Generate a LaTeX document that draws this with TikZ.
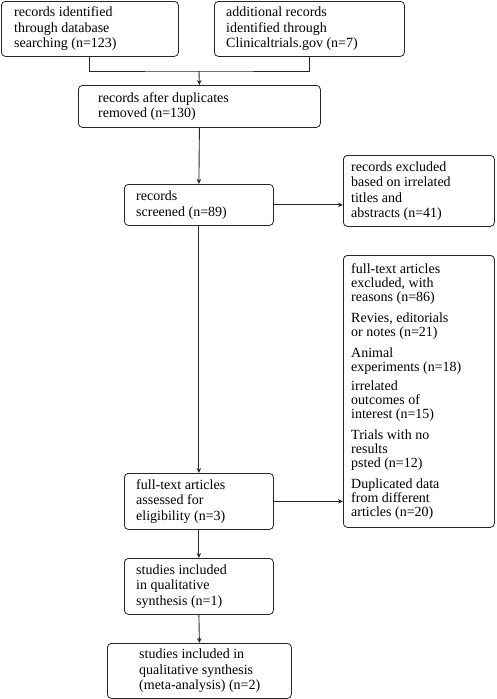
\documentclass[tikz,border=0pt]{standalone}
\usepackage{fontspec}
\setmainfont{Liberation Serif}
\usetikzlibrary{arrows.meta}
\begin{document}
\begin{tikzpicture}[x=1pt,y=1pt,
  box/.style={draw=black!85, line width=0.8pt, rounded corners=4pt, anchor=north west,
    inner sep=0pt},
  txt/.style={anchor=west, align=left, inner sep=0pt, font=\fontsize{14}{15.5}\selectfont},
  conn/.style={draw=black!85, line width=0.9pt},
  arr/.style={conn, -{Stealth[length=5pt,width=4.5pt]}}]
\useasboundingbox (0,0) rectangle (496,-699);
% boxes
\node[box, minimum width=177pt, minimum height=55pt] (b1) at (1,-1) {};
\node[box, minimum width=190pt, minimum height=55pt] (b2) at (214,-1) {};
\node[box, minimum width=242pt, minimum height=42pt] (b3) at (78,-85) {};
\node[box, minimum width=149pt, minimum height=41pt] (b4) at (124,-184) {};
\node[box, minimum width=151pt, minimum height=71pt] (b5) at (343,-155) {};
\node[box, minimum width=151pt, minimum height=272pt] (b6) at (343,-255) {};
\node[box, minimum width=149pt, minimum height=56pt] (b7) at (124,-473) {};
\node[box, minimum width=149pt, minimum height=56pt] (b8) at (124,-558) {};
\node[box, minimum width=184pt, minimum height=55pt] (b9) at (107,-643) {};
% texts
\node[txt] (t1) at ([xshift=13pt]b1.west) {records identified\\through database\\searching (n=123)};
\node[txt] (t2) at ([xshift=12pt]b2.west) {additional records\\identified through\\Clinicaltrials.gov (n=7)};
\node[txt] (t3) at ([xshift=20pt]b3.west) {records after duplicates\\removed (n=130)};
\node[txt] (t4) at ([xshift=12pt]b4.west) {records\\screened (n=89)};
\node[txt] (t5) at ([xshift=8pt]b5.west) {records excluded\\based on irrelated\\titles and\\abstracts (n=41)};
\node[txt, font=\fontsize{14}{14}\selectfont] (t6) at ([xshift=8pt]b6.west)
  {full-text articles\\excluded, with\\reasons (n=86)\\[7pt]
   Revies, editorials\\or notes (n=21)\\[7pt]
   Animal\\experiments (n=18)\\[5pt]
   irrelated\\outcomes of\\interest (n=15)\\[7pt]
   Trials with no\\results\\psted (n=12)\\[7pt]
   Duplicated data\\from different\\articles (n=20)};
\node[txt] (t7) at ([xshift=12pt]b7.west) {full-text articles\\assessed for\\eligibility (n=3)};
\node[txt] (t8) at ([xshift=12pt]b8.west) {studies included\\in qualitative\\synthesis (n=1)};
\node[txt] (t9) at ([xshift=32pt]b9.west) {studies included in\\qualitative synthesis\\(meta-analysis) (n=2)};
% connectors
\coordinate (j) at (199,-71);
\draw[conn] (b1.south) |- (j) -| (b2.south);
\draw[arr] (j) -- (b3.north);
\draw[arr] (b3.south) -- (b4.north);
\draw[arr] (b4.east) -- (b4.east -| b5.west);
\draw[arr] (b4.south) -- (b7.north);
\draw[arr] (b7.east) -- (b7.east -| b6.west);
\draw[arr] (b7.south) -- (b8.north);
\draw[arr] (b8.south) -- (b9.north);
\end{tikzpicture}
\end{document}
